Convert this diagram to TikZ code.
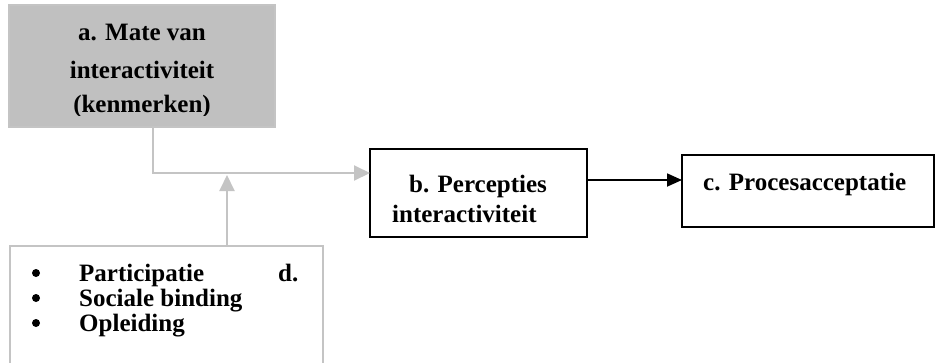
\documentclass[tikz,border=0pt]{standalone}
\usepackage{fontspec}
\setmainfont{Liberation Serif}
\usetikzlibrary{arrows.meta}
\definecolor{boxgray}{RGB}{192,192,192}
\definecolor{linegray}{RGB}{196,196,196}
\tikzset{
  lbl/.style={inner sep=0pt, anchor=base west, font=\fontsize{25}{30}\selectfont\bfseries},
  lblc/.style={inner sep=0pt, anchor=base, font=\fontsize{25}{30}\selectfont\bfseries},
  graybox/.style={draw=linegray, line width=2pt, inner sep=0pt},
  blackbox/.style={draw=black, line width=2pt, inner sep=0pt},
  grayarrow/.style={draw=linegray, line width=2pt, -{Triangle[length=16pt,width=15pt]}},
  blackarrow/.style={draw=black, line width=1.8pt, -{Triangle[length=15pt,width=13pt]}},
}
\begin{document}
\begin{tikzpicture}[x=1pt,y=-1pt]
\clip (0,0) rectangle (935,362);
\fill[white] (0,0) rectangle (935,362);

% a: shaded box with clipped text
\node[graybox, fill=boxgray, minimum width=266pt, minimum height=122pt] (a) at (142,66) {};
\begin{scope}
  \clip (9,5) rectangle (275,115);
  \node[lblc] (a1) at (142,40) {a. Mate van};
  \node[lblc] (a2) at (142,78) {interactiviteit};
  \node[lblc] (a3) at (142,112) {(kenmerken)};
\end{scope}

% b
\node[blackbox, minimum width=217pt, minimum height=88pt] (b) at (478.5,193) {};
\node[lbl] (b1) at (409,192) {b. Percepties};
\node[lbl] (b2) at (392,222) {interactiviteit};

% c
\node[blackbox, minimum width=252pt, minimum height=72pt] (c) at (808,191) {};
\node[lbl] (c1) at (703,190) {c. Procesacceptatie};

% d: list box running past the lower edge
\node[graybox, minimum width=313pt, minimum height=160pt] (d) at (166.5,326) {};
\node[lbl] (d1) at (79,281) {Participatie};
\node[lbl] (d2) at (79,306) {Sociale binding};
\node[lbl] (d3) at (79,331) {Opleiding};
\node[lbl] (dd) at (278,281) {d.};
\foreach \y/\n in {273/p1, 298/p2, 323/p3}
  \fill (36,\y) circle (4pt) coordinate (\n);

% connectors
\coordinate (aout) at (153,127);
\coordinate (bin) at (370,173);
\coordinate (dtop) at (227,246);
\coordinate (join) at (227,175);
\coordinate (bout) at (587,180);
\coordinate (cin) at (682,180);
\draw[grayarrow] (aout) |- (bin);
\draw[grayarrow] (dtop) -- (join);
\draw[blackarrow] (bout) -- (cin);
\end{tikzpicture}
\end{document}
